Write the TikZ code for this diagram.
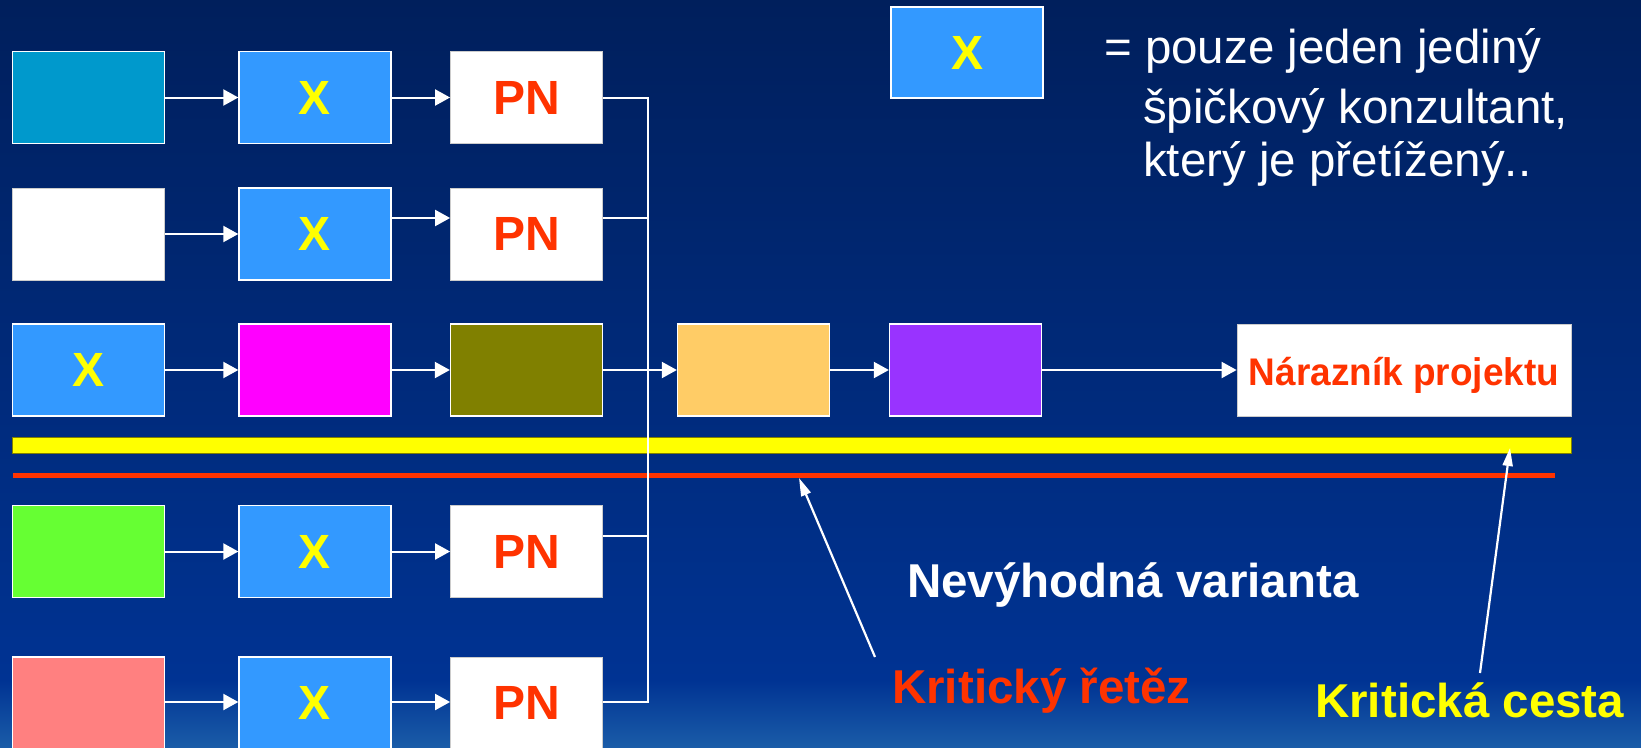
\documentclass[tikz,border=0pt]{standalone}
\usepackage{fontspec}
\setmainfont{Liberation Sans}
\usetikzlibrary{arrows.meta}
\definecolor{bgtop}{HTML}{001F5C}
\definecolor{bgmid}{HTML}{003393}
\definecolor{bgbot}{HTML}{1A5CA8}
\definecolor{cteal}{HTML}{0099CC}
\definecolor{cx}{HTML}{3399FF}
\definecolor{cmag}{HTML}{FF00FF}
\definecolor{colive}{HTML}{808000}
\definecolor{corange}{HTML}{FFCC66}
\definecolor{cpurple}{HTML}{9933FF}
\definecolor{cgreen}{HTML}{66FF33}
\definecolor{cpink}{HTML}{FF8080}
\definecolor{cred}{HTML}{FF3300}
\definecolor{cyel}{HTML}{FFFF00}
\begin{document}
\begin{tikzpicture}[x=1pt,y=-1pt,
  task/.style={rectangle, minimum width=152pt, minimum height=92pt, inner sep=0pt, draw=white, line width=1.3pt},
  wbox/.style={task, fill=white, draw=black!20, line width=0.8pt},
  xbox/.style={task, fill=cx, text=cyel, font=\fontsize{48}{48}\selectfont\bfseries},
  pnbox/.style={wbox, text=cred, font=\fontsize{48}{48}\selectfont\bfseries},
  conn/.style={draw=white, line width=2pt},
  arr/.style={conn, -{Triangle[length=15pt,width=16pt]}},
  ptr/.style={draw=white, line width=2.2pt, -{Triangle[length=18pt,width=10pt]}},
  big/.style={font=\fontsize{47.5}{47.5}\selectfont\bfseries, inner sep=0pt, anchor=base west},
  legend/.style={font=\fontsize{47.5}{47.5}\selectfont, text=white, inner sep=0pt, anchor=base west}
]
\useasboundingbox (0,0) rectangle (1641,747);
\shade[top color=bgtop, bottom color=bgmid] (0,0) rectangle (1641,680);
\shade[top color=bgmid, bottom color=bgbot] (0,680) rectangle (1641,747);

% bars
\filldraw[fill=cyel, draw=colive, line width=0.5pt] (12.5,437) rectangle (1571,453);
\fill[cred] (12.5,473) rectangle (1555,478);

% row 1
\node[task, fill=cteal] (a1) at (88.5,97.5) {};
\node[xbox] (x1) at (315,97.5) {X};
\node[pnbox] (p1) at (526.5,97.5) {PN};
% row 2
\node[wbox] (a2) at (88.5,234) {};
\node[xbox] (x2) at (315,234) {X};
\node[pnbox] (p2) at (526.5,234) {PN};
% row 3
\node[xbox] (x3) at (88.5,370) {X};
\node[task, fill=cmag] (m3) at (315,370) {};
\node[task, fill=colive] (o3) at (526.5,370) {};
\node[task, fill=corange] (or3) at (753.5,370) {};
\node[task, fill=cpurple] (pu3) at (965.5,370) {};
\node[wbox, minimum width=334pt] (buf) at (1404,370) {};
\node[font=\fontsize{38.5}{38.5}\selectfont\bfseries, text=cred, anchor=base, inner sep=0pt] (buft) at (1404,385) {\scalebox{0.96}[1]{Nárazník projektu}};
% row 4
\node[task, fill=cgreen] (a4) at (88.5,551.5) {};
\node[xbox] (x4) at (315,551.5) {X};
\node[pnbox] (p4) at (526.5,551.5) {PN};
% row 5
\node[task, fill=cpink] (a5) at (88.5,703) {};
\node[xbox] (x5) at (315,703) {X};
\node[pnbox] (p5) at (526.5,703) {PN};

% bus coordinates
\coordinate (b1) at (648,98);
\coordinate (b2) at (648,218);
\coordinate (b4) at (648,536);
\coordinate (b5) at (648,702);

% connectors
\draw[arr] (a1) -- (x1);
\draw[arr] (x1) -- (p1);
\draw[arr] (a2) -- (x2);
\draw[arr] (x2.east |- b2) -- (p2.west |- b2);
\draw[arr] (x3) -- (m3);
\draw[arr] (m3) -- (o3);
\draw[arr] (o3) -- (or3);
\draw[arr] (or3) -- (pu3);
\draw[arr] (pu3) -- (buf);
\draw[arr] (a4) -- (x4);
\draw[arr] (x4) -- (p4);
\draw[arr] (a5.east |- b5) -- (x5.west |- b5);
\draw[arr] (x5.east |- b5) -- (p5.west |- b5);
\draw[conn, line join=miter] (p1.east |- b1) -- (b1) -- (b5) -- (p5.east |- b5);
\draw[conn] (p2.east |- b2) -- (b2);
\draw[conn] (p4.east |- b4) -- (b4);

% legend
\node[xbox, minimum height=91pt] (lx) at (967,52.5) {X};
\node[legend] (t1) at (1104,63) {= pouze jeden jediný};
\node[legend] (t2) at (1143,123) {špičkový konzultant,};
\node[legend] (t3) at (1143,176) {který je přetížený..};

% labels
\node[big, text=white] (nv) at (907,597) {Nevýhodná varianta};
\node[big, text=cred] (kr) at (892,703) {Kritický řetěz};
\node[big, text=cyel] (kc) at (1315,717) {Kritická cesta};

\coordinate (krtail) at (875,657);
\coordinate (krtip) at (799,478);
\coordinate (kctail) at (1480,673);
\coordinate (kctip) at (1510,448);
\draw[ptr] (krtail) -- (krtip);
\draw[ptr] (kctail) -- (kctip);
\end{tikzpicture}
\end{document}
